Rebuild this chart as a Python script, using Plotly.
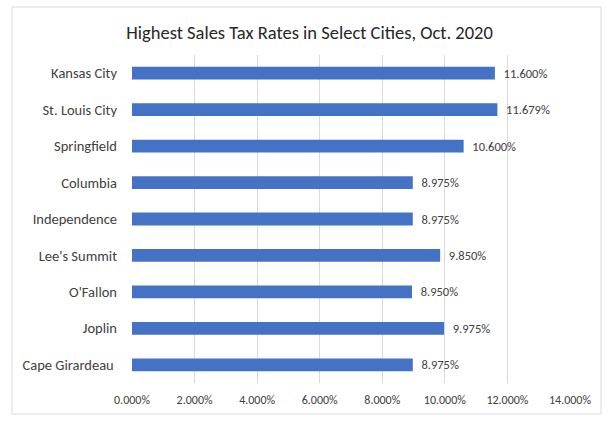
import plotly.graph_objects as go

cities = ["Kansas City", "St. Louis City", "Springfield", "Columbia", "Independence",
          "Lee's Summit", "O'Fallon", "Joplin", "Cape Girardeau "]
rates = [11.600, 11.679, 10.600, 8.975, 8.975, 9.850, 8.950, 9.975, 8.975]
tick_vals = [0, 2, 4, 6, 8, 10, 12, 14]
tick_text = ["%.3f%%" % v for v in tick_vals]

W, H = 613, 424
L, R, T, B = 132, 43, 55, 41
pw, ph = W - L - R, H - T - B

def px_x(x):
    return (x - L) / pw

def px_y(y):
    return (H - B - y) / ph

font_fam = "Carlito, Calibri, 'Noto Sans', sans-serif"

fig = go.Figure(go.Bar(
    x=rates, y=cities, orientation="h",
    marker=dict(color="#4472C4", line=dict(width=0)),
    text=rates, texttemplate="\u00a0\u00a0%{x:.3f}%", textposition="outside",
    constraintext="none",
    textfont=dict(size=12.5, color="#404040", family=font_fam),
    cliponaxis=False,
))

fig.update_layout(
    width=W, height=H,
    margin=dict(l=L, r=R, t=T, b=B, pad=0),
    paper_bgcolor="white", plot_bgcolor="white",
    bargap=0.65,
    showlegend=False,
    font=dict(family=font_fam, color="#404040"),
    title=dict(text="Highest Sales Tax Rates in Select Cities, Oct. 2020",
               x=0.505, xref="container", xanchor="center",
               y=1 - 33 / H, yref="container", yanchor="middle",
               font=dict(size=18.5, color="#262626", family=font_fam)),
    xaxis=dict(range=[0, 14], tickvals=tick_vals, ticktext=tick_text,
               showgrid=True, gridcolor="#D9D9D9", gridwidth=1,
               zeroline=False, showline=False, ticks="",
               ticklabelstandoff=8,
               tickfont=dict(size=12, color="#404040", family=font_fam)),
    yaxis=dict(autorange="reversed", showgrid=False, showline=False, ticks="",
               ticklabelstandoff=14,
               tickfont=dict(size=14.5, color="#404040", family=font_fam)),
    shapes=[dict(type="rect", xref="paper", yref="paper",
                 x0=px_x(12), x1=px_x(601), y0=px_y(414), y1=px_y(7),
                 line=dict(color="#D9D9D9", width=1), fillcolor="rgba(0,0,0,0)",
                 layer="below")],
)

fig.write_html("out.html", config={"displayModeBar": False},
               post_script="document.body.style.margin='0';")
